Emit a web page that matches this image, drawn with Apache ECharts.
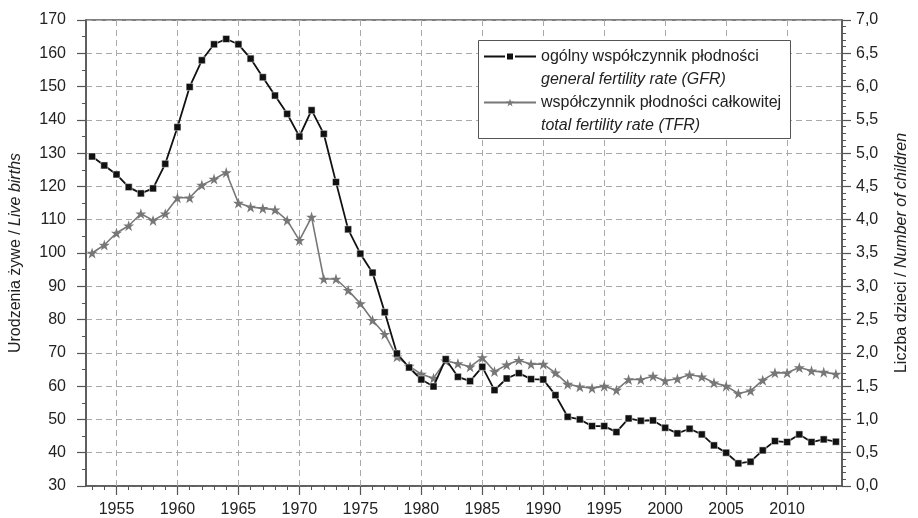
<!DOCTYPE html>
<html>
<head>
<meta charset="utf-8">
<script src="https://cdn.jsdelivr.net/npm/echarts@6.0.0/dist/echarts.min.js"></script>
<style>
  html, body { margin: 0; padding: 0; background: #fff; }
  #chart { width: 918px; height: 518px; }
</style>
</head>
<body>
<div id="chart"></div>
<script>
// Fertility in Poland 1953-2014: GFR (left axis) and TFR (right axis)
const years = [
  1953, 1954, 1955, 1956, 1957, 1958, 1959, 1960, 1961, 1962, 1963, 1964, 1965, 1966, 1967, 1968,
  1969, 1970, 1971, 1972, 1973, 1974, 1975, 1976, 1977, 1978, 1979, 1980, 1981, 1982, 1983, 1984,
  1985, 1986, 1987, 1988, 1989, 1990, 1991, 1992, 1993, 1994, 1995, 1996, 1997, 1998, 1999, 2000,
  2001, 2002, 2003, 2004, 2005, 2006, 2007, 2008, 2009, 2010, 2011, 2012, 2013, 2014
]
const majorYears = [1955, 1960, 1965, 1970, 1975, 1980, 1985, 1990, 1995, 2000, 2005, 2010]
const gfr = [
  129.0, 126.3, 123.6, 119.8, 117.9, 119.4, 126.8, 137.8, 149.9, 157.9, 162.7, 164.3, 162.7, 158.4, 152.8, 147.3,
  141.8, 135.0, 142.9, 135.8, 121.3, 107.1, 99.8, 94.1, 82.2, 69.8, 65.6, 62.0, 59.9, 68.1, 62.8, 61.5,
  65.8, 58.8, 62.3, 63.9, 62.1, 62.0, 57.3, 50.8, 50.0, 48.0, 48.0, 46.2, 50.3, 49.6, 49.7, 47.5,
  45.8, 47.2, 45.5, 42.2, 40.0, 36.8, 37.3, 40.7, 43.5, 43.2, 45.5, 43.2, 44.0, 43.3
]
const tfr = [
  3.50, 3.62, 3.80, 3.91, 4.09, 3.99, 4.09, 4.33, 4.33, 4.52, 4.61, 4.71, 4.25, 4.19, 4.17, 4.15,
  3.99, 3.69, 4.04, 3.11, 3.11, 2.94, 2.74, 2.49, 2.28, 1.94, 1.80, 1.68, 1.62, 1.88, 1.84, 1.79,
  1.93, 1.72, 1.82, 1.89, 1.83, 1.83, 1.70, 1.53, 1.49, 1.47, 1.50, 1.44, 1.60, 1.60, 1.65, 1.58,
  1.61, 1.67, 1.64, 1.55, 1.50, 1.39, 1.43, 1.59, 1.70, 1.70, 1.78, 1.73, 1.71, 1.68
]
const seriesNames = ['ogólny współczynnik płodności', 'współczynnik płodności całkowitej']
const seriesNamesEn = ['general fertility rate (GFR)', 'total fertility rate (TFR)']

const FONT = '"Liberation Sans", Arial, sans-serif'
const AXIS = '#555'
const TEXT = '#222'
const gridDash = { color: '#aaa', width: 1, type: [6, 4] }
const nameRich = {
  r: { fontSize: 16, fontFamily: FONT, color: TEXT },
  i: { fontSize: 16, fontFamily: FONT, fontStyle: 'italic', color: TEXT },
}

const chart = echarts.init(document.getElementById('chart'), null, { renderer: 'canvas' })

chart.setOption({
  animation: false,
  backgroundColor: '#fff',
  textStyle: { fontFamily: FONT },
  grid: { left: 78, right: 64, top: 20, bottom: 32, show: true, borderColor: AXIS, borderWidth: 1.5 },
  legend: {
    left: 483, top: 22, orient: 'vertical', padding: 0, itemGap: -23,
    itemWidth: 52, itemHeight: 10,
    data: seriesNames,
    textStyle: {
      fontFamily: FONT, fontSize: 16, color: TEXT, lineHeight: 23,
      rich: {
        a: { fontFamily: FONT, fontSize: 16, color: TEXT, lineHeight: 23 },
        b: { fontFamily: FONT, fontSize: 16, color: TEXT, lineHeight: 23, fontStyle: 'italic' },
      },
    },
    // leading blank line puts the icon level with the first text line
    formatter: name => `\n{a|${name}}\n{b|${seriesNamesEn[seriesNames.indexOf(name)]}}`,
    z: 5,
  },
  graphic: [{
    type: 'rect', left: 478, top: 40, z: 4,
    shape: { width: 312, height: 98 },
    style: { fill: '#fff', stroke: AXIS, lineWidth: 1 },
  }],
  xAxis: [
    {
      type: 'value', min: 1952.5, max: 2014.5,
      axisLine: { lineStyle: { color: AXIS, width: 1.5 } },
      axisTick: { customValues: majorYears, length: 9, lineStyle: { color: AXIS, width: 1.2 } },
      axisLabel: { customValues: majorYears, margin: 16, fontSize: 16, color: TEXT, fontFamily: FONT, formatter: v => String(v) },
      splitLine: { show: false },
    },
    {
      type: 'value', min: 1952.5, max: 2014.5, position: 'bottom',
      axisLine: { show: false },
      axisTick: { customValues: years, length: 4, lineStyle: { color: AXIS } },
      axisLabel: { show: false },
      splitLine: { show: false },
    },
  ],
  yAxis: [
    {
      type: 'value', min: 30, max: 170, interval: 10,
      name: '{r|Urodzenia żywe / }{i|Live births}', nameLocation: 'middle', nameGap: 62, nameRotate: 90,
      nameTextStyle: { rich: nameRich },
      axisLine: { show: true, lineStyle: { color: AXIS, width: 1.5 } },
      axisTick: { show: true, length: 9, lineStyle: { color: AXIS, width: 1.2 } },
      minorTick: { show: true, splitNumber: 2, length: 4, lineStyle: { color: AXIS } },
      axisLabel: { margin: 20, fontSize: 16, color: TEXT, fontFamily: FONT },
      splitLine: { show: true, lineStyle: gridDash },
    },
    {
      type: 'value', min: 0, max: 7, interval: 0.5, position: 'right',
      name: '{r|Liczba dzieci / }{i|Number of children}', nameLocation: 'middle', nameGap: 52, nameRotate: 90,
      nameTextStyle: { rich: nameRich },
      axisLine: { show: true, lineStyle: { color: AXIS, width: 1.5 } },
      axisTick: { show: true, length: 9, lineStyle: { color: AXIS, width: 1.2 } },
      minorTick: { show: true, splitNumber: 5, length: 4, lineStyle: { color: AXIS } },
      axisLabel: { margin: 14, fontSize: 16, color: TEXT, fontFamily: FONT, formatter: v => v.toFixed(1).replace('.', ',') },
      splitLine: { show: false },
    },
  ],
  series: [
    {
      // vertical dashed grid at the labelled years
      name: 'grid', type: 'line', data: [], z: 1, silent: true,
      markLine: {
        silent: true, symbol: 'none', label: { show: false }, z: 1,
        lineStyle: gridDash, emphasis: { disabled: true },
        data: majorYears.map(y => ({ xAxis: y })),
      },
    },
    {
      name: seriesNames[0], type: 'line', data: years.map((y, i) => [y, gfr[i]]), yAxisIndex: 0, xAxisIndex: 0,
      symbol: 'rect', symbolSize: 7, showAllSymbol: true, z: 3,
      lineStyle: { color: '#111', width: 1.8 },
      itemStyle: { color: '#111', borderColor: '#fff', borderWidth: 0.5 },
    },
    {
      name: seriesNames[1], type: 'line', data: years.map((y, i) => [y, tfr[i]]), yAxisIndex: 1, xAxisIndex: 0,
      symbol: 'path://M50,0 L61.8,35.5 L99,35.5 L69,57.5 L80.5,93 L50,71 L19.5,93 L31,57.5 L1,35.5 L38.2,35.5 Z',
      symbolSize: 11, showAllSymbol: true, z: 2,
      lineStyle: { color: '#777', width: 1.6 },
      itemStyle: { color: '#777' },
    },
  ],
})
</script>
</body>
</html>
